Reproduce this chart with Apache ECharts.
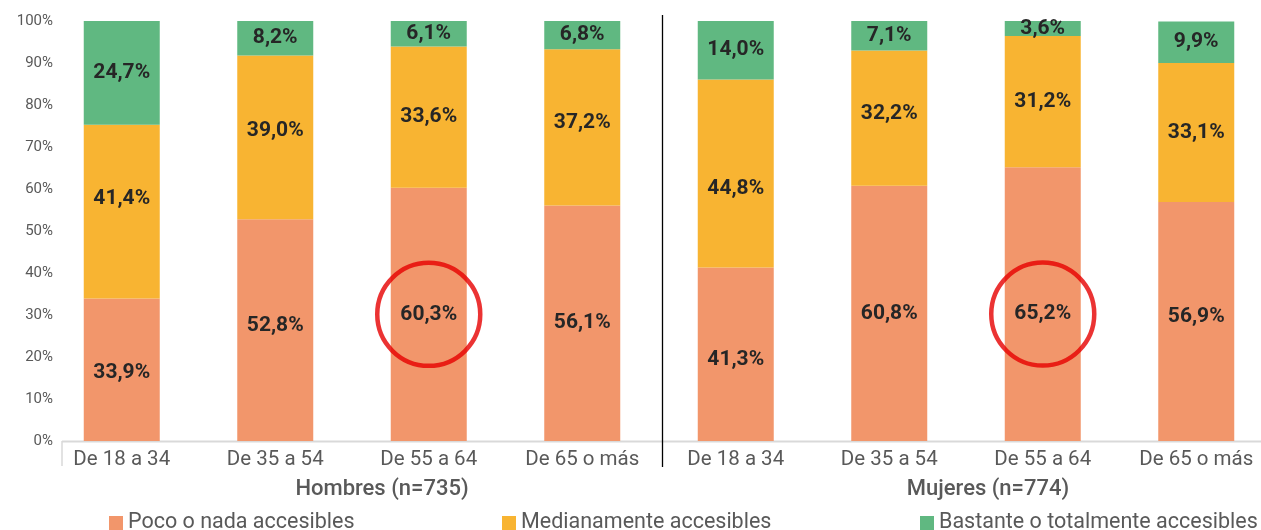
<!DOCTYPE html>
<html>
<head>
<meta charset="utf-8">
<script src="https://cdn.jsdelivr.net/npm/echarts@6/dist/echarts.min.js"></script>
<style>
  html, body { margin: 0; padding: 0; background: #fff; }
  #chart { width: 1261px; height: 530px; }
</style>
</head>
<body>
<div id="chart"></div>
<script>
// categorias: 4 edades x 2 grupos (Hombres / Mujeres)
var categorias = ['De 18 a 34', 'De 35 a 54', 'De 55 a 64', 'De 65 o más',
                  'De 18 a 34', 'De 35 a 54', 'De 55 a 64', 'De 65 o más'];
var grupos = ['Hombres (n=735)', 'Mujeres (n=774)'];
var nombres = ['Poco o nada accesibles', 'Medianamente accesibles', 'Bastante o totalmente accesibles'];

var poco      = [33.9, 52.8, 60.3, 56.1, 41.3, 60.8, 65.2, 56.9];
var medio     = [41.4, 39.0, 33.6, 37.2, 44.8, 32.2, 31.2, 33.1];
var bastante  = [24.7,  8.2,  6.1,  6.8, 14.0,  7.1,  3.6,  9.9];
var resaltados = [2, 6];   // barras marcadas con circulo rojo

var colores = ['#F2966B', '#F8B432', '#60B881'];

// desplazamiento vertical (px) de algunas etiquetas, como en el original
var ajusteEtiquetas = [
  [3, -4, 0, 0, 5, 0, 10, -5],
  [-13, -7, 0, -5, 15, -4, 0, 0],
  [0, 0, 0, 0, 0, 0, 0, 0]
];

var myChart = echarts.init(document.getElementById('chart'));

function etiqueta(p) {
  return p.value.toFixed(1).replace('.', ',') + '%';
}

var labelStyle = {
  show: true,
  position: 'inside',
  formatter: etiqueta,
  fontFamily: 'Roboto',
  fontWeight: 'bold',
  fontSize: 21,
  color: '#262626'
};

var series = [poco, medio, bastante].map(function (d, i) {
  return {
    name: nombres[i],
    type: 'bar',
    stack: 'total',
    barWidth: 76,
    data: d.map(function (v, j) {
      var dy = ajusteEtiquetas[i][j];
      return dy ? { value: v, label: { offset: [0, dy] } } : v;
    }),
    itemStyle: { color: colores[i] },
    label: labelStyle,
    z: 2
  };
});

// circulos rojos alrededor de la etiqueta del segmento "poco"
series.push({
  type: 'scatter',
  symbol: 'circle',
  symbolSize: 103,
  data: resaltados.map(function (i) {
    return { value: [i, poco[i] / 2], symbolOffset: [0, ajusteEtiquetas[0][i]] };
  }),
  itemStyle: { color: 'rgba(0,0,0,0)', borderColor: '#E60000', borderWidth: 4.5 },
  silent: true,
  z: 5
});

var option = {
  animation: false,
  textStyle: { fontFamily: 'Roboto' },
  grid: { left: 45, width: 1228, top: 21, height: 420, outerBoundsMode: 'none', containLabel: false },
  xAxis: {
    type: 'category',
    data: categorias,
    axisLine: { show: false },
    axisTick: { show: false },
    axisLabel: { color: '#595959', fontSize: 20.5, margin: 8, interval: 0 }
  },
  yAxis: {
    type: 'value',
    min: 0,
    max: 100,
    interval: 10,
    splitLine: { show: false },
    axisLine: { show: false },
    axisTick: { show: false },
    axisLabel: { color: '#595959', fontSize: 15, margin: -8, formatter: '{value}%' }
  },
  legend: nombres.map(function (n, i) {
    return {
      data: [n],
      left: [104, 497, 915][i],
      top: 507,
      itemWidth: 14,
      itemHeight: 14,
      icon: 'rect',
      itemGap: 8,
      textStyle: { color: '#595959', fontSize: 21.5, fontFamily: 'Roboto' }
    };
  }),
  graphic: [
    { type: 'line', shape: { x1: 62, y1: 441.5, x2: 1261, y2: 441.5 }, style: { stroke: '#D9D9D9', lineWidth: 2 } },
    { type: 'line', shape: { x1: 62, y1: 441, x2: 62, y2: 466 }, style: { stroke: '#D9D9D9', lineWidth: 1.5 } },
    { type: 'line', shape: { x1: 662.5, y1: 15, x2: 662.5, y2: 467 }, style: { stroke: '#000', lineWidth: 1.3 } },
    { type: 'text', x: 382, y: 489, style: { text: grupos[0], fill: '#595959', fontSize: 22, fontWeight: 500, fontFamily: 'Roboto', textAlign: 'center', textVerticalAlign: 'middle' } },
    { type: 'text', x: 988, y: 489, style: { text: grupos[1], fill: '#595959', fontSize: 22, fontWeight: 500, fontFamily: 'Roboto', textAlign: 'center', textVerticalAlign: 'middle' } }
  ],
  series: series
};

myChart.setOption(option);
window.addEventListener('resize', function () {
  myChart.resize();
});
</script>
</body>
</html>
